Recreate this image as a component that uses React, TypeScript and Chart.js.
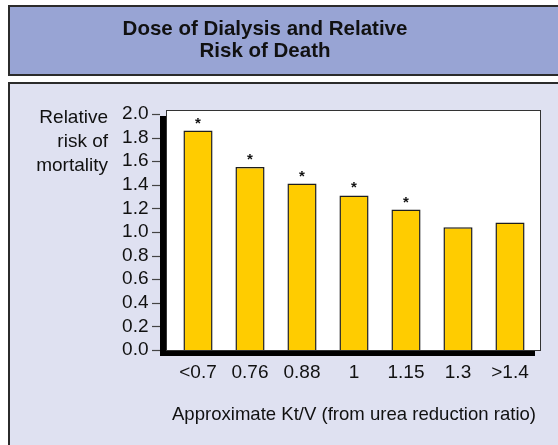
import { useEffect, useRef } from "react";
import { Chart, registerables } from "chart.js";

Chart.register(...registerables);

const categories = ["<0.7", "0.76", "0.88", "1", "1.15", "1.3", ">1.4"];
const relativeRisk = [1.86, 1.55, 1.41, 1.31, 1.19, 1.04, 1.08];
const significant = [true, true, true, true, true, false, false];
const titleLines = ["Dose of Dialysis and Relative", "Risk of Death"];
const yTitleLines = ["Relative", "risk of", "mortality"];
const xTitle = "Approximate Kt/V (from urea reduction ratio)";
const yMin = 0;
const yMax = 2.0;
const yStep = 0.2;

const FONT = "'Liberation Sans', Arial, Helvetica, sans-serif";

const decorPlugin = {
  id: "decor",
  beforeDraw(chart: any) {
    const ctx = chart.ctx as CanvasRenderingContext2D;
    const ca = chart.chartArea;
    ctx.save();
    ctx.fillStyle = "#ffffff";
    ctx.fillRect(0, 0, chart.width, chart.height);

    // header panel
    ctx.fillStyle = "#98a4d4";
    ctx.fillRect(9, 6, 620, 69);
    ctx.strokeStyle = "#2b2b2b";
    ctx.lineWidth = 2;
    ctx.strokeRect(9, 6, 620, 69);

    // body panel
    ctx.fillStyle = "#dfe1f1";
    ctx.fillRect(9, 83, 620, 420);
    ctx.strokeRect(9, 83, 620, 420);

    // header title
    ctx.fillStyle = "#111111";
    ctx.font = `bold 20.5px ${FONT}`;
    ctx.textAlign = "center";
    ctx.textBaseline = "middle";
    titleLines.forEach((t, i) => ctx.fillText(t, 265, 29 + i * 22));

    // y title
    ctx.font = `19px ${FONT}`;
    ctx.textAlign = "right";
    yTitleLines.forEach((t, i) => ctx.fillText(t, 108, 118 + i * 24));

    // plot box with shadow
    const L = ca.left - 6;
    const T = ca.top - 4;
    const R = ca.right + 5;
    const B = ca.bottom;
    ctx.fillStyle = "#000000";
    ctx.fillRect(L - 6, T + 6, R - L, B - T);
    ctx.fillStyle = "#ffffff";
    ctx.fillRect(L, T, R - L, B - T);
    ctx.lineWidth = 1;
    ctx.strokeStyle = "#333333";
    ctx.strokeRect(L + 0.5, T + 0.5, R - L - 1, B - T);

    // y tick marks
    const ys = chart.scales.y;
    ctx.strokeStyle = "#444444";
    ctx.lineWidth = 1.2;
    ys.ticks.forEach((tk: any) => {
      const py = Math.round(ys.getPixelForValue(tk.value)) + 0.5;
      ctx.beginPath();
      ctx.moveTo(L - 14, py);
      ctx.lineTo(L - 6, py);
      ctx.stroke();
    });
    ctx.restore();
  },
  afterDatasetsDraw(chart: any) {
    const ctx = chart.ctx as CanvasRenderingContext2D;
    const meta = chart.getDatasetMeta(0);
    ctx.save();
    ctx.fillStyle = "#111111";
    ctx.font = `bold 15px ${FONT}`;
    ctx.textAlign = "center";
    ctx.textBaseline = "alphabetic";
    meta.data.forEach((bar: any, i: number) => {
      if (significant[i]) ctx.fillText("*", bar.x, bar.y - 3);
    });
    ctx.restore();
  },
};

export default function App() {
  const ref = useRef<HTMLCanvasElement | null>(null);
  useEffect(() => {
    if (!ref.current) return;
    const chart = new Chart(ref.current, {
      type: "bar",
      data: {
        labels: categories,
        datasets: [
          {
            data: relativeRisk,
            backgroundColor: "#ffcc00",
            borderColor: "#1e1e1e",
            borderWidth: 1.5,
            barPercentage: 0.56,
            categoryPercentage: 1,
          },
        ],
      },
      options: {
        responsive: false,
        animation: false,
        devicePixelRatio: 1,
        layout: { padding: { top: 114, right: 22, left: 0, bottom: 0 } },
        plugins: { legend: { display: false }, tooltip: { enabled: false } },
        scales: {
          x: {
            grid: { display: false, drawTicks: false },
            border: { display: false },
            ticks: {
              color: "#111111",
              font: { family: FONT, size: 19 },
              padding: 11,
              maxRotation: 0,
              autoSkip: false,
            },
            title: {
              display: true,
              text: xTitle,
              color: "#111111",
              font: { family: FONT, size: 19 },
              padding: { top: 0, bottom: 18.6 },
            },
            afterFit(scale: any) {
              scale.height = 95;
            },
          },
          y: {
            min: yMin,
            max: yMax,
            grid: { display: false, drawTicks: false },
            border: { display: false },
            ticks: {
              stepSize: yStep,
              autoSkip: false,
              color: "#111111",
              font: { family: FONT, size: 19 },
              padding: 23.5,
              callback: (v: any) => Number(v).toFixed(1),
            },
            afterFit(scale: any) {
              scale.width = 172;
            },
          },
        },
      },
      plugins: [decorPlugin],
    });
    return () => chart.destroy();
  }, []);
  return (
    <div style={{ position: "fixed", left: 0, top: 0, width: 558, height: 445 }}>
      <canvas ref={ref} width={558} height={445} style={{ width: 558, height: 445, display: "block" }} />
    </div>
  );
}
